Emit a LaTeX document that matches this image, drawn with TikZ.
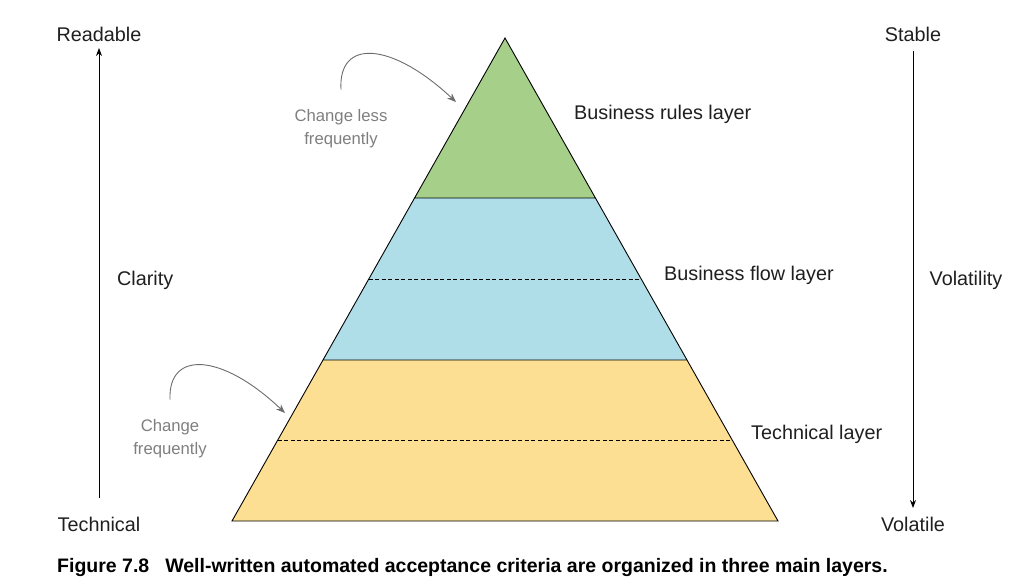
\documentclass[tikz,border=0pt]{standalone}
\usepackage{fontspec}
\setmainfont{Liberation Sans}
\newfontfamily\capfont{Liberation Sans Bold}
\usetikzlibrary{calc,arrows.meta}
\definecolor{rulesgreen}{HTML}{A6D08A}
\definecolor{flowblue}{HTML}{B0DEE8}
\definecolor{techyellow}{HTML}{FDDF94}
\definecolor{notegray}{HTML}{7F7F7F}
\tikzset{
  lbl/.style={font=\fontsize{19.8}{23}\selectfont,inner sep=0pt,text=black!88},
  note/.style={font=\fontsize{16.7}{23}\selectfont,text=notegray,align=center,inner sep=0pt},
  axis/.style={-{Stealth[length=8pt,width=6pt]},line width=0.9pt},
  curl/.style={-{Stealth[length=9pt,width=7pt]},draw=notegray!85!black,line width=0.9pt},
}
\begin{document}
\begin{tikzpicture}[x=1pt,y=-1pt]
      \useasboundingbox(0,0)rectangle(1026,587);
      \coordinate(T)at(505,38);\coordinate(L)at(232,521);\coordinate(R)at(778,521);
      \coordinate(G1)at($(T)!160/483!(L)$);\coordinate(G2)at($(T)!160/483!(R)$);
      \coordinate(B1)at($(T)!241/483!(L)$);\coordinate(B2)at($(T)!241/483!(R)$);
      \coordinate(C1)at($(T)!322/483!(L)$);\coordinate(C2)at($(T)!322/483!(R)$);
      \coordinate(D1)at($(T)!402/483!(L)$);\coordinate(D2)at($(T)!402/483!(R)$);
      \fill[rulesgreen](T)--(G2)--(G1)--cycle;
      \fill[flowblue](G1)--(G2)--(C2)--(C1)--cycle;
      \fill[techyellow](C1)--(C2)--(R)--(L)--cycle;
      \draw[line width=0.9pt](T)--(R)--(L)--cycle (G1)--(G2) (C1)--(C2);
      \draw[line width=0.7pt,dash pattern=on 4pt off 2.5pt](B1)--(B2) (D1)--(D2);
      % layer names
      \node[lbl,anchor=west](rules)at(574,114){Business rules layer};
      \node[lbl,anchor=west](flow)at(664,275){Business flow layer};
      \node[lbl,anchor=west](tech)at(751,434){Technical layer};
      % left scale
      \node[lbl](readable)at(99,34){Readable};
      \node[lbl](technical)at(99,524){Technical};
      \node[lbl,anchor=west](clarity)at(117,280){Clarity};
      \coordinate(lbot)at(99,498);\coordinate(ltop)at(99,48);
      \draw[axis](lbot)--(ltop);
      % right scale
      \node[lbl](stable)at(913,34){Stable};
      \node[lbl](volatile)at(913,524){Volatile};
      \node[lbl](volatility)at(966,280){Volatility};
      \coordinate(rtop)at(913,51);\coordinate(rbot)at(913,508);
      \draw[axis](rtop)--(rbot);
      % notes
      \node[note](less)at(341,129){Change less\\frequently};
      \node[note](freq)at(170,439){Change\\frequently};
      \draw[curl](less.north)++(0,-20)..controls(338,38)and(392,42)..(456,102);
      \draw[curl](freq.north)++(0,-20)..controls(168,350)and(222,353)..(285,413);
      % caption
      \node[anchor=west,inner sep=0pt,font=\capfont\fontsize{19.5}{22}\selectfont](cap)at(57,567)
        {Figure 7.8\hspace{16pt}Well-written automated acceptance criteria are organized in three main layers.};
\end{tikzpicture}
\end{document}
